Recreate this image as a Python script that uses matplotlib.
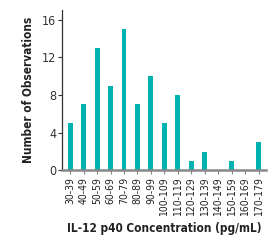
import matplotlib

matplotlib.use("Agg")
import matplotlib.pyplot as plt

bins = ["30-39", "40-49", "50-59", "60-69", "70-79", "80-89", "90-99", "100-109",
        "110-119", "120-129", "130-139", "140-149", "150-159", "160-169", "170-179"]
counts = [5, 7, 13, 9, 15, 7, 10, 5, 8, 1, 2, 0, 1, 0, 3]
y_ticks = [0, 4, 8, 12, 16]

plt.rcParams["font.family"] = ["DejaVu Sans"]
plt.rcParams["font.stretch"] = "condensed"

fig = plt.figure(figsize=(2.7, 2.4), dpi=100)
ax = fig.add_axes([0.23, 0.29, 0.755, 0.668])

x = range(len(bins))
ax.bar(x, counts, width=0.37, color="#00b2b0", zorder=2)

ax.set_xlim(-0.6, 14.55)
ax.set_ylim(0, 17)
ax.set_yticks(y_ticks)
ax.set_yticklabels([str(t) for t in y_ticks], fontsize=9, color="#333333")
ax.set_xticks(list(x))
ax.set_xticklabels(bins, rotation=90, fontsize=7.5, color="#222222")

for side in ("top", "right"):
    ax.spines[side].set_visible(False)
ax.spines["left"].set_color("#333333")
ax.spines["left"].set_linewidth(0.9)
ax.spines["bottom"].set_color("#888888")
ax.spines["bottom"].set_linewidth(1.8)
ax.tick_params(axis="y", length=3, width=0.8, color="#333333", pad=1)
ax.tick_params(axis="x", length=3, width=0.8, color="#888888", pad=2)

ax.set_xlabel("IL-12 p40 Concentration (pg/mL)", fontsize=8.5, fontweight="bold",
              color="#222222", labelpad=4)
ax.set_ylabel("Number of Observations", fontsize=8.5, fontweight="bold",
              color="#222222", labelpad=5)

fig.savefig("out.png", dpi=100)
